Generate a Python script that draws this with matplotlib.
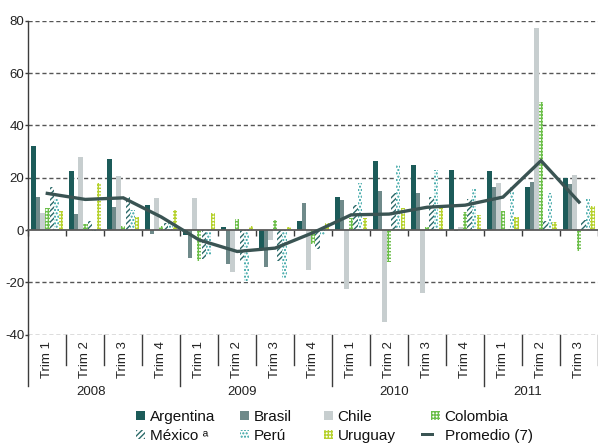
import matplotlib
matplotlib.use("Agg")
import matplotlib.pyplot as plt
import matplotlib.patches as mpatches
from matplotlib.legend_handler import HandlerPatch
import numpy as np

plt.rcParams['font.family'] = ['Liberation Sans', 'DejaVu Sans']
plt.rcParams['axes.unicode_minus'] = False
plt.rcParams['hatch.linewidth'] = 1.0

# ---------------- data ----------------
quarters = ["Trim 1", "Trim 2", "Trim 3", "Trim 4",
            "Trim 1", "Trim 2", "Trim 3", "Trim 4",
            "Trim 1", "Trim 2", "Trim 3", "Trim 4",
            "Trim 1", "Trim 2", "Trim 3"]
years = ["2008", "2009", "2010", "2011"]
year_start = [0, 4, 8, 12]
year_len = [4, 4, 4, 3]

argentina = [32, 22.5, 27, 9.7, -2, 1, -7.4, 3.6, 12.8, 26.3, 25, 23, 22.7, 16.6, 19.7]
brasil = [12.8, 6.1, 8.9, -1.5, -10.5, -12.8, -14, 10.5, 11.5, 15, 14, -0.5, 16.6, 18.4, 17.6]
chile = [6.6, 28.1, 20.7, 12.3, 12.3, -16.2, -3.8, -15.3, -22.6, -35, -24, 1.3, 18.1, 77.4, 21.2]
colombia = [8.4, 2.3, 1.5, 1.7, -11.8, 4.2, 3.8, -5.3, 4.6, -12.3, 1, 6.9, 7.4, 48.9, -8]
mexico = [16.6, 3.6, 12.5, 2.6, -11, -11.8, -11.7, -7.3, 9.4, 14, 12.8, 11.8, 0.5, 3.3, 3.8]
peru = [12, -0.5, 7.7, 3, -9.5, -19.7, -18.4, -2, 18, 25, 22.8, 15.8, 16.6, 14.3, 11.7]
uruguay = [7.4, 18.1, 4.8, 7.7, 6.4, 1.5, 1, 2.8, 4.6, 8.4, 8.4, 5.9, 5.1, 3, 9.2]
promedio = [14, 11.7, 12.3, 5, -3.8, -8.2, -6.9, -1, 5.8, 6.1, 8.7, 9.5, 12.6, 26.5, 10.7]

series_names = ["Argentina", "Brasil", "Chile", "Colombia", "México \u1d43", "Perú", "Uruguay"]
series_vals = [argentina, brasil, chile, colombia, mexico, peru, uruguay]

# ---------------- styles ----------------
styles = [
    dict(color="#1c5b59", hatch=None, edge=None),
    dict(color="#6f8a8a", hatch=None, edge=None),
    dict(color="#c7cecf", hatch=None, edge=None),
    dict(color="white", hatch="+++++", edge="#6cbf4a"),
    dict(color="white", hatch="//////", edge="#2b6a69"),
    dict(color="white", hatch=".....", edge="#2a9e9e"),
    dict(color="white", hatch="+++++", edge="#b6d22e"),
]
line_color = "#3a5453"
grid_color = "#555555"
axis_color = "#3c3c3c"

W, H = 598, 443
fig = plt.figure(figsize=(W / 100, H / 100), dpi=100)
left_px, top_px, bot_px = 28.3, 20.7, 334.7
ax = fig.add_axes([left_px / W, 1 - bot_px / H, (W - left_px) / W, (bot_px - top_px) / H])

n = len(quarters)
x = np.arange(n) + 0.5
bw = 0.118
handles = []
for j, (name, vals, st) in enumerate(zip(series_names, series_vals, styles)):
    off = (j - 3) * 0.12
    if st["hatch"] is None:
        b = ax.bar(x + off, vals, width=bw, color=st["color"], linewidth=0, zorder=2)
    else:
        b = ax.bar(x + off, vals, width=bw, facecolor=st["color"], edgecolor=st["edge"],
                   hatch=st["hatch"], linewidth=0, zorder=2)
    handles.append(b.patches[0])

ln, = ax.plot(x, promedio, color=line_color, lw=2.4, zorder=4, solid_joinstyle="miter")

ax.set_xlim(0, n)
ax.set_ylim(-40, 80)

# grid
for yv in [-40, -20, 20, 40, 60, 80]:
    ax.axhline(yv, color=grid_color, lw=1.0, ls=(0, (3, 2)), zorder=1)

for s in ["top", "right"]:
    ax.spines[s].set_visible(False)
ax.spines["left"].set_color(axis_color)
ax.spines["left"].set_linewidth(1.0)
ax.spines["bottom"].set_position(("data", 0))
ax.spines["bottom"].set_color("#5a5a5a")
ax.spines["bottom"].set_linewidth(1.3)
ax.spines["bottom"].set_zorder(3)

ax.set_xticks(np.arange(0, n + 1))
ax.set_xticklabels([])
ax.tick_params(axis="x", direction="out", length=4, width=1, color=axis_color)
ax.set_yticks(range(-40, 81, 20))
ax.set_yticklabels([str(v) for v in range(-40, 81, 20)])
ax.tick_params(axis="y", direction="out", length=2.5, width=1, color=axis_color,
               labelsize=9.5, pad=0.5, labelcolor="#222222")

# category labels below
trans = ax.get_xaxis_transform()
hpx = bot_px - top_px
def frac(px):
    return -(px - bot_px) / hpx

for i, q in enumerate(quarters):
    ax.text(i + 0.5, frac(360), q, rotation=90, ha="center", va="center",
            fontsize=9.5, color="#222222", transform=trans)
for ys, yl, yname in zip(year_start, year_len, years):
    ax.text(ys + yl / 2 - 0.36, frac(392), yname, ha="center", va="center",
            fontsize=9.5, color="#222222", transform=trans)

for b in range(0, n + 1):
    if b in year_start:
        ax.plot([b, b], [0, frac(386)], color=axis_color, lw=1, transform=trans, clip_on=False)
    else:
        ax.plot([b, b], [0, frac(365)], color=axis_color, lw=1, transform=trans, clip_on=False)

# ---------------- legend ----------------
PX = 0.72  # points per pixel

def square_patch(size_px, align="left"):
    def f(legend, orig_handle, xdescent, ydescent, width, height, fontsize):
        s = size_px * PX
        x0 = -xdescent if align == "left" else -xdescent + width - s
        return mpatches.Rectangle((x0, -ydescent + (height - s) / 2), s, s)
    return f

def line_patch(len_px, th_px):
    def f(legend, orig_handle, xdescent, ydescent, width, height, fontsize):
        return mpatches.Rectangle((-xdescent, -ydescent + height / 2 - th_px * PX / 2),
                                  len_px * PX, th_px * PX)
    return f

line_proxy = mpatches.Rectangle((0, 0), 1, 1, facecolor=line_color, edgecolor="none")
col_items = [
    ([handles[0], handles[4]], [series_names[0], series_names[4]], 136, 9),
    ([handles[1], handles[5]], [series_names[1], series_names[5]], 240, 9),
    ([handles[2], handles[6]], [series_names[2], series_names[6]], 324, 9),
    ([handles[3], line_proxy], [series_names[3], "Promedio (7)"], 421, 19),
]
fs = 11
for hs, labs, xpx, hlen in col_items:
    hmap = {}
    for h in hs:
        if h is line_proxy:
            hmap[h] = HandlerPatch(patch_func=line_patch(13, 3))
        else:
            hmap[h] = HandlerPatch(patch_func=square_patch(9, "left" if hlen == 9 else "right"))
    leg = fig.legend(hs, labs, loc="upper left", bbox_to_anchor=(xpx / W, 1 - 410 / H),
                     frameon=False, fontsize=fs, handlelength=hlen * PX / fs,
                     handleheight=0.6, handletextpad=0.3, labelspacing=0.3,
                     borderpad=0, borderaxespad=0, handler_map=hmap)
    for t in leg.get_texts():
        t.set_color("#111111")

fig.savefig("out.png", dpi=100)
